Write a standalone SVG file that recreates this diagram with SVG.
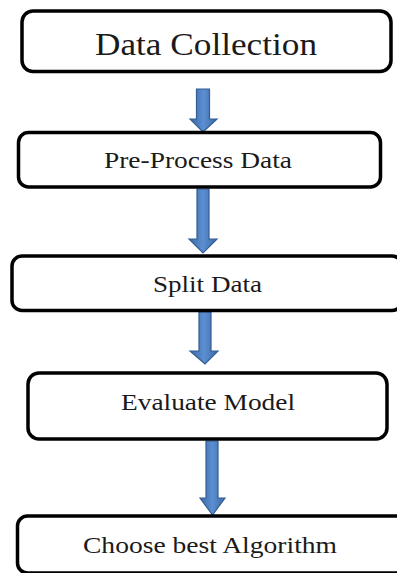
<svg xmlns="http://www.w3.org/2000/svg" width="397" height="573" viewBox="0 0 397 573">
  <defs>
    <linearGradient id="arrowFill" x1="0" y1="0" x2="1" y2="0">
      <stop offset="0" stop-color="#3c69a3"/>
      <stop offset="0.5" stop-color="#5b8fd2"/>
      <stop offset="1" stop-color="#3c69a3"/>
    </linearGradient>
  </defs>
  <style>
    .box { fill: #ffffff; stroke: #000000; stroke-width: 3.5; }
    .label { font-family: "Liberation Serif", "Times New Roman", serif; fill: #1a1a1a; text-anchor: start; }
    .arrow { fill: url(#arrowFill); stroke: #335d94; stroke-width: 1.2; stroke-linejoin: miter; }
  </style>
  <rect width="397" height="573" fill="#ffffff"/>

  <g id="connectors">
    <path class="arrow" d="M196.5 89 L209.5 89 L209.5 119 L217 119 L203 132 L190 119 L196.5 119 Z"/>
    <path class="arrow" d="M197 189 L209 189 L209 239 L217 239 L203 253 L189 239 L197 239 Z"/>
    <path class="arrow" d="M199 312 L211 312 L211 351 L218 351 L205 364 L190 351 L199 351 Z"/>
    <path class="arrow" d="M206 441 L218 441 L218 498 L225 498 L212.5 515 L200 498 L206 498 Z"/>
  </g>

  <g id="data-collection">
    <rect class="box" x="22" y="11" width="369" height="60.5" rx="11"/>
    <text class="label" x="95" y="55" font-size="32" textLength="222" lengthAdjust="spacingAndGlyphs">Data Collection</text>
  </g>

  <g id="pre-process-data">
    <rect class="box" x="18.5" y="132.5" width="362" height="54.5" rx="10"/>
    <text class="label" x="104" y="168" font-size="24" textLength="188" lengthAdjust="spacingAndGlyphs">Pre-Process Data</text>
  </g>

  <g id="split-data">
    <rect class="box" x="12" y="256" width="390" height="54.5" rx="10"/>
    <text class="label" x="153" y="292" font-size="24" textLength="109" lengthAdjust="spacingAndGlyphs">Split Data</text>
  </g>

  <g id="evaluate-model">
    <rect class="box" x="28" y="373" width="359" height="66" rx="11"/>
    <text class="label" x="121" y="410" font-size="24" textLength="174" lengthAdjust="spacingAndGlyphs">Evaluate Model</text>
  </g>

  <g id="choose-best-algorithm">
    <rect class="box" x="17.5" y="516" width="390" height="57" rx="10"/>
    <text class="label" x="83" y="553" font-size="23" textLength="254" lengthAdjust="spacingAndGlyphs">Choose best Algorithm</text>
  </g>
</svg>
